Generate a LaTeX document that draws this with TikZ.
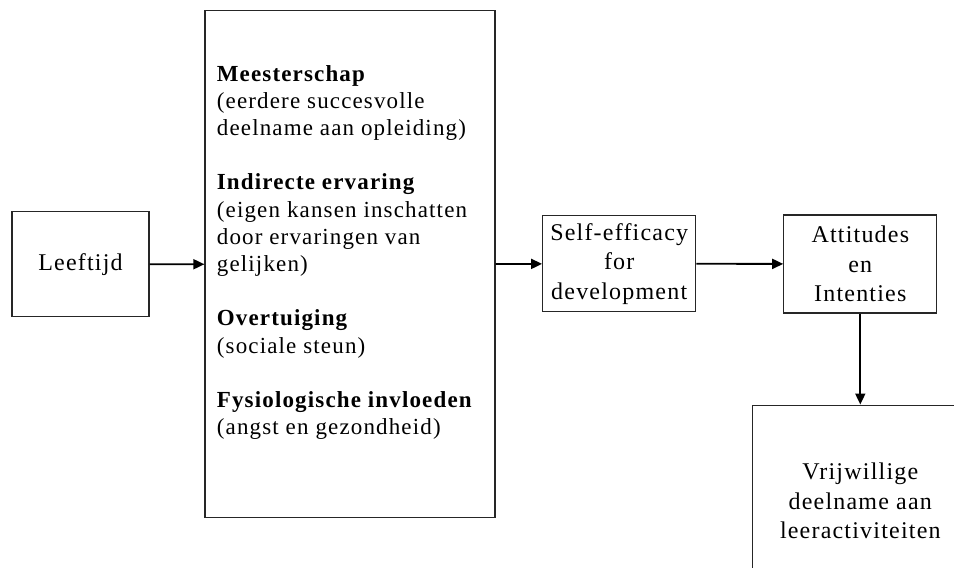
\documentclass[tikz,border=0pt]{standalone}
\usepackage{fontspec}
\setmainfont[LetterSpace=5]{Liberation Serif}
\usetikzlibrary{calc}
\usetikzlibrary{arrows.meta}
\newcommand*{\boxfont }{\fontsize{24}{29.5}\selectfont}
\newcommand*{\listfont}{\fontsize{23}{27.2}\selectfont}
\newcommand*{\gap     }{27.2pt}

\begin{document}
\begin{tikzpicture}[x=1pt, y=-1pt, font=\boxfont,
    blok/.style={draw=black!85, line width=1.2pt, align=center, inner sep=0pt},
    pijl/.style={line width=1.8pt, -{Triangle[length=11pt, width=10pt]}}]
    \useasboundingbox (0,0) rectangle (954,568);
        \node [blok, minimum width=137, minimum height=105] (leeftijd) at ( 80.5,264.2) {Leeftijd};
        \node [blok, minimum width=290, minimum height=507] (bronnen)  at (350.0,264.3) {};
        \node [anchor=north west, inner sep=0pt, align=left, font=\listfont] (bronnentekst) at (216.7,65) {%
            \textbf{Meesterschap}\\
            (eerdere succesvolle\\
            deelname aan opleiding)\\[\gap]
            \textbf{Indirecte ervaring}\\
            (eigen kansen inschatten\\
            door ervaringen van\\
            gelijken)\\[\gap]
            \textbf{Overtuiging}\\
            (sociale steun)\\[\gap]
            \textbf{Fysiologische invloeden}\\
            (angst en gezondheid)};
        \node [blok, minimum width=153, minimum height=96]  (selfeff)  at (619.2,263.7) {Self-efficacy\\for\\development};
        \node [blok, minimum width=153, minimum height=98]  (attitude) at (860.3,264.0) {Attitudes\\en\\Intenties};
        \node [blok, minimum width=216, minimum height=192, anchor=north] (deelname) at (860.3,404.5) {Vrijwillige\\deelname aan\\leeractiviteiten};
        \draw [pijl] (leeftijd) -- (bronnen);
        \draw [pijl] (bronnen)  -- (selfeff);
        \draw [pijl] (selfeff)  -- (attitude);
        \draw [pijl] (attitude) -- (deelname);
    \end{tikzpicture}
\end{document}
